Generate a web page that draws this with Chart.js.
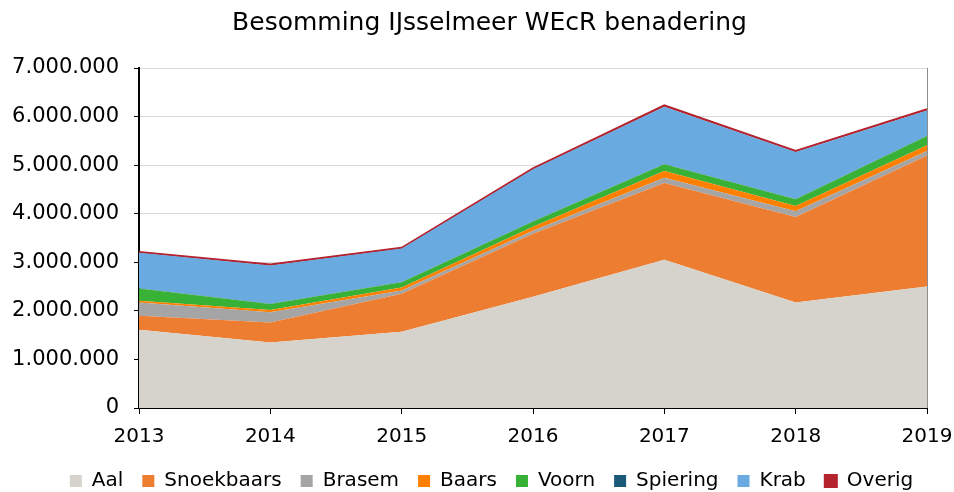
<!DOCTYPE html>
<html>
<head>
<meta charset="utf-8">
<script src="https://cdn.jsdelivr.net/npm/chart.js@4/dist/chart.umd.min.js"></script>
<style>
  html, body { margin: 0; padding: 0; background: #fff; }
  #wrap { width: 954px; height: 492px; }
</style>
</head>
<body>
<div id="wrap"><canvas id="chart" width="954" height="492"></canvas></div>
<script>
const years = ['2013', '2014', '2015', '2016', '2017', '2018', '2019'];

// besomming per soort (euro)
const aal        = [1610000, 1350000, 1570000, 2290000, 3050000, 2170000, 2500000];
const snoekbaars = [ 290000,  410000,  780000, 1300000, 1580000, 1760000, 2700000];
const brasem     = [ 270000,  210000,   70000,   60000,  110000,  120000,   90000];
const baars      = [  40000,   50000,   60000,   80000,  140000,  110000,  120000];
const voorn      = [ 250000,  120000,  110000,  110000,  140000,  140000,  190000];
const spiering   = [   4000,    4000,    3000,    3000,    3000,    3000,    3000];
const krab       = [ 730000,  790000,  690000, 1070000, 1180000,  970000,  520000];
const overig     = [  20000,   20000,   15000,   20000,   30000,   20000,   30000];

const yTicks = [0, 1000000, 2000000, 3000000, 4000000, 5000000, 6000000, 7000000];

const series = [
  { label: 'Aal', data: aal, color: '#d6d3cc' },
  { label: 'Snoekbaars', data: snoekbaars, color: '#ed7d31' },
  { label: 'Brasem', data: brasem, color: '#a5a5a5' },
  { label: 'Baars', data: baars, color: '#ff8000' },
  { label: 'Voorn', data: voorn, color: '#38b236' },
  { label: 'Spiering', data: spiering, color: '#1a5a78' },
  { label: 'Krab', data: krab, color: '#69abe1' },
  { label: 'Overig', data: overig, color: '#b5232f' }
];

function fmt(v) {
  return String(v).replace(/\B(?=(\d{3})+(?!\d))/g, '.');
}

// grijze rand rechts van het plotgebied
const rightBorder = {
  id: 'rightBorder',
  afterDraw(chart) {
    const { ctx, chartArea } = chart;
    ctx.save();
    ctx.strokeStyle = '#8c8c8c';
    ctx.lineWidth = 1;
    ctx.beginPath();
    ctx.moveTo(chartArea.right + 0.5, chartArea.top);
    ctx.lineTo(chartArea.right + 0.5, chartArea.bottom);
    ctx.stroke();
    ctx.restore();
  }
};

// titel en legenda iets naar rechts, zoals in het origineel
const shiftBlocks = {
  id: 'shiftBlocks',
  afterLayout(chart) {
    [[chart.titleBlock, 10], [chart.legend, 12]].forEach(([b, dx]) => {
      if (!b) return;
      b.left += dx;
      b.right += dx;
    });
  }
};

const ctx = document.getElementById('chart').getContext('2d');
new Chart(ctx, {
  type: 'line',
  data: {
    labels: years,
    datasets: series.map((s, i) => ({
      label: s.label,
      data: s.data,
      backgroundColor: s.color,
      borderColor: s.color,
      borderWidth: s.label === 'Overig' ? 2 : 0,
      pointRadius: 0,
      tension: 0,
      fill: i === 0 ? 'origin' : '-1'
    }))
  },
  options: {
    responsive: false,
    animation: false,
    layout: { padding: { left: 5, right: 0, top: 0, bottom: -9 } },
    plugins: {
      title: {
        display: true,
        text: 'Besomming IJsselmeer WEcR benadering',
        color: '#000',
        font: { family: 'DejaVu Sans', size: 25, weight: 'normal' },
        padding: { top: 8, bottom: 30 }
      },
      legend: {
        position: 'bottom',
        labels: {
          color: '#000',
          font: { family: 'DejaVu Sans', size: 20 },
          boxWidth: 12,
          boxHeight: 12,
          padding: 19
        }
      },
      tooltip: { enabled: false }
    },
    scales: {
      x: {
        offset: false,
        afterFit: axis => { axis.paddingLeft = 0; axis.paddingRight = 27; axis.height -= 8; },
        grid: { display: true, drawOnChartArea: false, drawTicks: true, tickLength: 6, color: '#000' },
        border: { color: '#000', width: 2 },
        ticks: { color: '#000', font: { family: 'DejaVu Sans', size: 20 }, padding: 11, maxRotation: 0 }
      },
      y: {
        stacked: true,
        min: 0,
        max: 7000000,
        afterBuildTicks: axis => { axis.ticks = yTicks.map(v => ({ value: v })); },
        afterFit: axis => { axis.width = 134; },
        grid: { color: '#d9d9d9', lineWidth: 1, drawTicks: true, tickLength: 5, tickColor: '#000' },
        border: { color: '#000', width: 2 },
        ticks: {
          color: '#000',
          font: { family: 'DejaVu Sans', size: 21 },
          padding: 15,
          callback: v => fmt(v)
        }
      }
    }
  },
  plugins: [rightBorder, shiftBlocks]
});
</script>
</body>
</html>
